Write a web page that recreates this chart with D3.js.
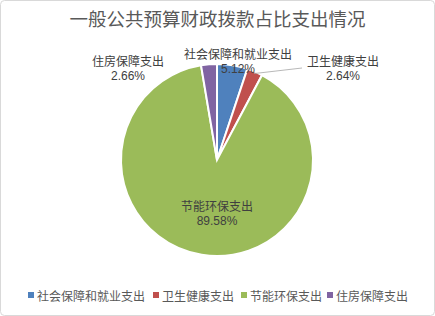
<!DOCTYPE html>
<html>
<head>
<meta charset="utf-8">
<script src="https://cdn.jsdelivr.net/npm/d3@7"></script>
<style>
  body { margin: 0; background: #fff; }
  text { font-family: "Liberation Sans", "Noto Sans CJK SC", sans-serif; }
</style>
</head>
<body>
<div id="chart"></div>
<script>
const title = '一般公共预算财政拨款占比支出情况';
const categories = ['社会保障和就业支出', '卫生健康支出', '节能环保支出', '住房保障支出'];
const values = [5.12, 2.64, 89.58, 2.66];
const colors = ['#4F81BD', '#C0504D', '#9BBB59', '#8064A2'];

// label anchor offsets from pie center (layout only)
const labelOffsets = [[21, -101], [126, -94], [0, 51], [-89, -94]];

const width = 435;
const height = 316;
const cx = 217;
const cy = 160;
const radius = 96;

const svg = d3.select('#chart')
  .append('svg')
  .attr('width', width)
  .attr('height', height);

svg.append('rect')
  .attr('x', 0.5)
  .attr('y', 0.5)
  .attr('width', width - 1)
  .attr('height', height - 1)
  .attr('rx', 4)
  .attr('fill', '#fff')
  .attr('stroke', '#D9D9D9');

svg.append('text')
  .attr('x', width / 2)
  .attr('y', 26)
  .attr('text-anchor', 'middle')
  .attr('font-size', 18.5)
  .attr('fill', '#595959')
  .style('font-family', '"Noto Sans CJK SC", sans-serif')
  .text(title);

const total = d3.sum(values);
const pie = d3.pie().sort(null).value(d => d);
const arcs = pie(values);
const arc = d3.arc().innerRadius(0).outerRadius(radius);

const g = svg.append('g')
  .attr('transform', `translate(${cx}, ${cy})`);

g.selectAll('path.slice')
  .data(arcs)
  .join('path')
  .attr('class', 'slice')
  .attr('d', arc)
  .attr('fill', (d, i) => colors[i])
  .attr('stroke', '#fff')
  .attr('stroke-width', 2);

// leader line for the small red slice
const red = arcs[1];
const redMid = (red.startAngle + red.endAngle) / 2;
const leaderStart = [Math.sin(redMid) * (radius - 2), -Math.cos(redMid) * (radius - 2)];
g.append('polyline')
  .attr('points', [leaderStart, [85, -92]].map(p => p.join(',')).join(' '))
  .attr('fill', 'none')
  .attr('stroke', '#A6A6A6')
  .attr('stroke-width', 0.8);

const labels = g.selectAll('g.label')
  .data(arcs)
  .join('g')
  .attr('class', 'label')
  .attr('transform', (d, i) => `translate(${labelOffsets[i][0]}, ${labelOffsets[i][1]})`);

labels.append('text')
  .attr('text-anchor', 'middle')
  .attr('font-size', 12)
  .attr('fill', '#404040')
  .text((d, i) => categories[i]);

labels.append('text')
  .attr('text-anchor', 'middle')
  .attr('y', 14)
  .attr('font-size', 12)
  .attr('fill', '#404040')
  .text(d => (d.value / total * 100).toFixed(2) + '%');

// legend
const legendX = [28, 153, 241, 327];
const legend = svg.append('g')
  .selectAll('g')
  .data(categories)
  .join('g')
  .attr('transform', (d, i) => `translate(${legendX[i]}, 297)`);

legend.append('rect')
  .attr('x', 0)
  .attr('y', -5)
  .attr('width', 6)
  .attr('height', 6)
  .attr('fill', (d, i) => colors[i]);

legend.append('text')
  .attr('x', 9)
  .attr('y', 2)
  .attr('dy', '0.15em')
  .attr('font-size', 12)
  .attr('fill', '#595959')
  .text(d => d);
</script>
</body>
</html>
